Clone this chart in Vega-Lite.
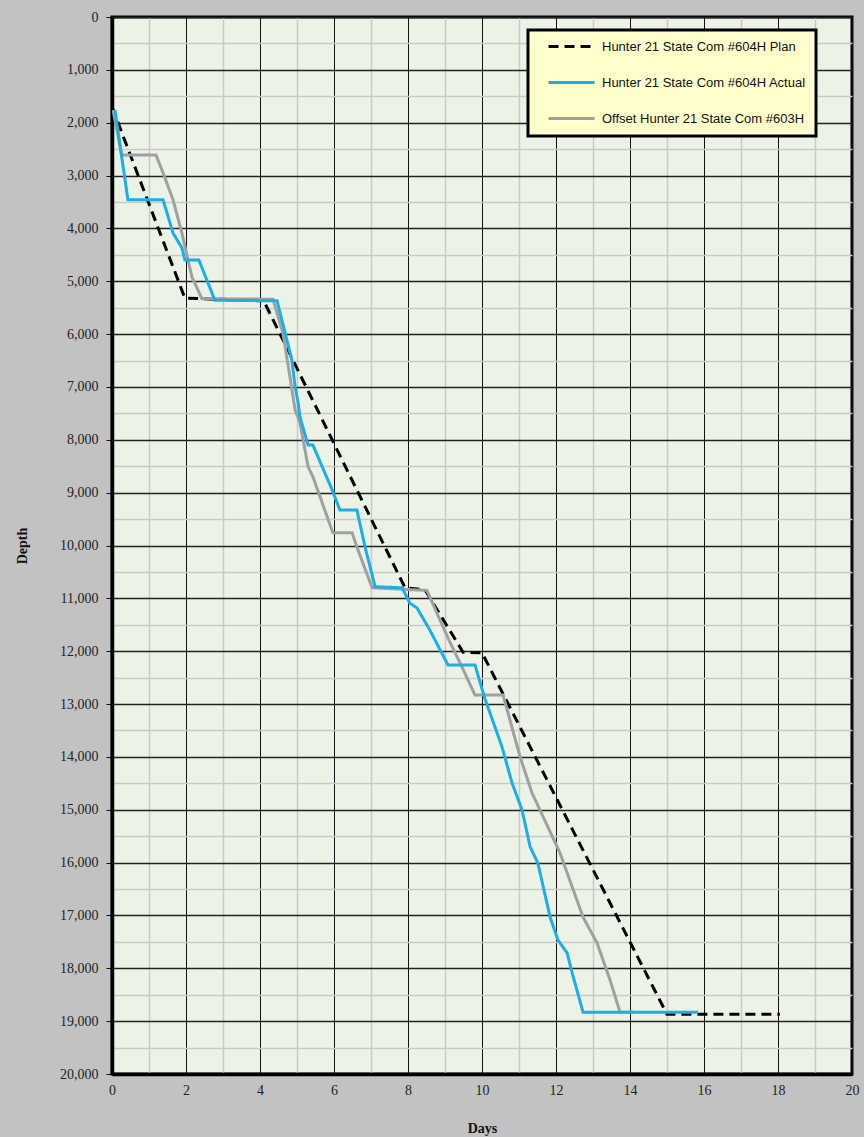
{
  "$schema": "https://vega.github.io/schema/vega-lite/v6.json",
  "width": 740,
  "height": 1057,
  "autosize": {"type": "none"},
  "padding": {"left": 112, "top": 17, "right": 12, "bottom": 63},
  "background": "#c2c2c2",
  "config": {
    "view": {"fill": "#ecf2e6", "stroke": "black", "strokeWidth": 3},
    "axis": {
      "labelFont": "Liberation Serif",
      "labelFontSize": 14,
      "labelColor": "#222222",
      "titleFont": "Liberation Serif",
      "titleFontSize": 14,
      "titleFontWeight": "bold",
      "titleColor": "#111111",
      "domainColor": "black",
      "domainWidth": 3.5,
      "labelOverlap": false,
      "labelBound": false,
      "labelFlush": false
    }
  },
  "data": {
    "values": [
      {"series": "Hunter 21 State Com #604H Plan", "days": 0, "depth": 1700},
      {"series": "Hunter 21 State Com #604H Plan", "days": 1.97, "depth": 5320},
      {"series": "Hunter 21 State Com #604H Plan", "days": 4.1, "depth": 5370},
      {"series": "Hunter 21 State Com #604H Plan", "days": 7.92, "depth": 10800},
      {"series": "Hunter 21 State Com #604H Plan", "days": 8.46, "depth": 10840},
      {"series": "Hunter 21 State Com #604H Plan", "days": 9.49, "depth": 12020},
      {"series": "Hunter 21 State Com #604H Plan", "days": 10.0, "depth": 12030},
      {"series": "Hunter 21 State Com #604H Plan", "days": 15.0, "depth": 18870},
      {"series": "Hunter 21 State Com #604H Plan", "days": 18.05, "depth": 18870},

      {"series": "Offset Hunter 21 State Com #603H", "days": 0.03, "depth": 1760},
      {"series": "Offset Hunter 21 State Com #603H", "days": 0.26, "depth": 2610},
      {"series": "Offset Hunter 21 State Com #603H", "days": 1.19, "depth": 2610},
      {"series": "Offset Hunter 21 State Com #603H", "days": 1.38, "depth": 2950},
      {"series": "Offset Hunter 21 State Com #603H", "days": 1.65, "depth": 3460},
      {"series": "Offset Hunter 21 State Com #603H", "days": 1.89, "depth": 4090},
      {"series": "Offset Hunter 21 State Com #603H", "days": 2.16, "depth": 4920},
      {"series": "Offset Hunter 21 State Com #603H", "days": 2.28, "depth": 5100},
      {"series": "Offset Hunter 21 State Com #603H", "days": 2.43, "depth": 5330},
      {"series": "Offset Hunter 21 State Com #603H", "days": 4.35, "depth": 5340},
      {"series": "Offset Hunter 21 State Com #603H", "days": 4.62, "depth": 5980},
      {"series": "Offset Hunter 21 State Com #603H", "days": 4.81, "depth": 6810},
      {"series": "Offset Hunter 21 State Com #603H", "days": 4.95, "depth": 7440},
      {"series": "Offset Hunter 21 State Com #603H", "days": 5.08, "depth": 7680},
      {"series": "Offset Hunter 21 State Com #603H", "days": 5.3, "depth": 8510},
      {"series": "Offset Hunter 21 State Com #603H", "days": 5.43, "depth": 8700},
      {"series": "Offset Hunter 21 State Com #603H", "days": 5.97, "depth": 9760},
      {"series": "Offset Hunter 21 State Com #603H", "days": 6.49, "depth": 9760},
      {"series": "Offset Hunter 21 State Com #603H", "days": 6.62, "depth": 10030},
      {"series": "Offset Hunter 21 State Com #603H", "days": 7.03, "depth": 10800},
      {"series": "Offset Hunter 21 State Com #603H", "days": 8.51, "depth": 10850},
      {"series": "Offset Hunter 21 State Com #603H", "days": 9.08, "depth": 11750},
      {"series": "Offset Hunter 21 State Com #603H", "days": 9.46, "depth": 12300},
      {"series": "Offset Hunter 21 State Com #603H", "days": 9.81, "depth": 12830},
      {"series": "Offset Hunter 21 State Com #603H", "days": 10.57, "depth": 12830},
      {"series": "Offset Hunter 21 State Com #603H", "days": 11.03, "depth": 14000},
      {"series": "Offset Hunter 21 State Com #603H", "days": 11.35, "depth": 14680},
      {"series": "Offset Hunter 21 State Com #603H", "days": 12.11, "depth": 15820},
      {"series": "Offset Hunter 21 State Com #603H", "days": 12.73, "depth": 17030},
      {"series": "Offset Hunter 21 State Com #603H", "days": 13.11, "depth": 17520},
      {"series": "Offset Hunter 21 State Com #603H", "days": 13.46, "depth": 18220},
      {"series": "Offset Hunter 21 State Com #603H", "days": 13.73, "depth": 18830},
      {"series": "Offset Hunter 21 State Com #603H", "days": 14.1, "depth": 18830},

      {"series": "Hunter 21 State Com #604H Actual", "days": 0.08, "depth": 1760},
      {"series": "Hunter 21 State Com #604H Actual", "days": 0.43, "depth": 3460},
      {"series": "Hunter 21 State Com #604H Actual", "days": 1.38, "depth": 3460},
      {"series": "Hunter 21 State Com #604H Actual", "days": 1.65, "depth": 4090},
      {"series": "Hunter 21 State Com #604H Actual", "days": 1.89, "depth": 4370},
      {"series": "Hunter 21 State Com #604H Actual", "days": 1.97, "depth": 4600},
      {"series": "Hunter 21 State Com #604H Actual", "days": 2.35, "depth": 4600},
      {"series": "Hunter 21 State Com #604H Actual", "days": 2.78, "depth": 5360},
      {"series": "Hunter 21 State Com #604H Actual", "days": 4.46, "depth": 5370},
      {"series": "Hunter 21 State Com #604H Actual", "days": 4.68, "depth": 5980},
      {"series": "Hunter 21 State Com #604H Actual", "days": 4.86, "depth": 6490},
      {"series": "Hunter 21 State Com #604H Actual", "days": 4.95, "depth": 7000},
      {"series": "Hunter 21 State Com #604H Actual", "days": 5.03, "depth": 7300},
      {"series": "Hunter 21 State Com #604H Actual", "days": 5.08, "depth": 7570},
      {"series": "Hunter 21 State Com #604H Actual", "days": 5.3, "depth": 8100},
      {"series": "Hunter 21 State Com #604H Actual", "days": 5.43, "depth": 8100},
      {"series": "Hunter 21 State Com #604H Actual", "days": 5.95, "depth": 8950},
      {"series": "Hunter 21 State Com #604H Actual", "days": 6.16, "depth": 9330},
      {"series": "Hunter 21 State Com #604H Actual", "days": 6.62, "depth": 9330},
      {"series": "Hunter 21 State Com #604H Actual", "days": 6.84, "depth": 10030},
      {"series": "Hunter 21 State Com #604H Actual", "days": 7.11, "depth": 10780},
      {"series": "Hunter 21 State Com #604H Actual", "days": 7.84, "depth": 10800},
      {"series": "Hunter 21 State Com #604H Actual", "days": 8.05, "depth": 11090},
      {"series": "Hunter 21 State Com #604H Actual", "days": 8.24, "depth": 11180},
      {"series": "Hunter 21 State Com #604H Actual", "days": 8.59, "depth": 11600},
      {"series": "Hunter 21 State Com #604H Actual", "days": 9.08, "depth": 12260},
      {"series": "Hunter 21 State Com #604H Actual", "days": 9.81, "depth": 12260},
      {"series": "Hunter 21 State Com #604H Actual", "days": 10.08, "depth": 12900},
      {"series": "Hunter 21 State Com #604H Actual", "days": 10.54, "depth": 13810},
      {"series": "Hunter 21 State Com #604H Actual", "days": 10.81, "depth": 14490},
      {"series": "Hunter 21 State Com #604H Actual", "days": 11.08, "depth": 15000},
      {"series": "Hunter 21 State Com #604H Actual", "days": 11.3, "depth": 15700},
      {"series": "Hunter 21 State Com #604H Actual", "days": 11.51, "depth": 16010},
      {"series": "Hunter 21 State Com #604H Actual", "days": 11.84, "depth": 17030},
      {"series": "Hunter 21 State Com #604H Actual", "days": 12.05, "depth": 17460},
      {"series": "Hunter 21 State Com #604H Actual", "days": 12.3, "depth": 17710},
      {"series": "Hunter 21 State Com #604H Actual", "days": 12.43, "depth": 18070},
      {"series": "Hunter 21 State Com #604H Actual", "days": 12.73, "depth": 18830},
      {"series": "Hunter 21 State Com #604H Actual", "days": 15.84, "depth": 18830}
    ]
  },
  "mark": {"type": "line", "clip": true},
  "encoding": {
    "x": {
      "field": "days",
      "type": "quantitative",
      "scale": {"domain": [0, 20], "nice": false},
      "axis": {
        "title": "Days",
        "values": [0,1,2,3,4,5,6,7,8,9,10,11,12,13,14,15,16,17,18,19,20],
        "labelExpr": "datum.value % 2 === 0 ? datum.label : ''",
        "ticks": false,
        "labelPadding": 9,
        "titlePadding": 24,
        "grid": true,
        "gridColor": {"condition": {"test": "datum.value % 2 === 0", "value": "#111111"}, "value": "#c9c9c9"},
        "gridWidth": {"condition": {"test": "datum.value % 2 === 0", "value": 1}, "value": 1.5}
      }
    },
    "y": {
      "field": "depth",
      "type": "quantitative",
      "scale": {"domain": [0, 20000], "nice": false, "reverse": true},
      "axis": {
        "title": "Depth",
        "values": [0,500,1000,1500,2000,2500,3000,3500,4000,4500,5000,5500,6000,6500,7000,7500,8000,8500,9000,9500,10000,10500,11000,11500,12000,12500,13000,13500,14000,14500,15000,15500,16000,16500,17000,17500,18000,18500,19000,19500,20000],
        "format": ",d",
        "labelExpr": "datum.value % 1000 === 0 ? datum.label : ''",
        "tickSize": 6,
        "tickColor": {"condition": {"test": "datum.value % 1000 === 0", "value": "#111111"}, "value": "transparent"},
        "labelPadding": 8,
        "titlePadding": 30,
        "grid": true,
        "gridColor": {"condition": {"test": "datum.value % 1000 === 0", "value": "#222222"}, "value": "#c9c9c9"},
        "gridWidth": {"condition": {"test": "datum.value % 1000 === 0", "value": 1.3}, "value": 1.5}
      }
    },
    "color": {
      "field": "series",
      "type": "nominal",
      "scale": {
        "domain": ["Hunter 21 State Com #604H Plan", "Hunter 21 State Com #604H Actual", "Offset Hunter 21 State Com #603H"],
        "range": ["#000000", "#1aafe6", "#a0a0a0"]
      },
      "legend": {
        "title": null,
        "orient": "none",
        "legendX": 416,
        "legendY": 13,
        "fillColor": "#ffffcc",
        "strokeColor": "#000000",
        "padding": 10,
        "symbolType": "stroke",
        "symbolSize": 2116,
        "symbolOffset": 9,
        "labelOffset": 6,
        "clipHeight": 13,
        "rowPadding": 22,
        "labelFont": "Liberation Sans",
        "labelFontSize": 13,
        "labelColor": "#111111",
        "labelLimit": 400,
        "labelExpr": "datum.label + '         '",
        "encode": {"legend": {"update": {"strokeWidth": {"value": 3}}}}
      }
    },
    "strokeDash": {
      "field": "series",
      "type": "nominal",
      "scale": {
        "domain": ["Hunter 21 State Com #604H Plan", "Hunter 21 State Com #604H Actual", "Offset Hunter 21 State Com #603H"],
        "range": [[10, 6], [1, 0], [1, 0]]
      }
    },
    "strokeWidth": {
      "field": "series",
      "type": "nominal",
      "scale": {
        "domain": ["Hunter 21 State Com #604H Plan", "Hunter 21 State Com #604H Actual", "Offset Hunter 21 State Com #603H"],
        "range": [3, 3, 2]
      }
    }
  }
}
